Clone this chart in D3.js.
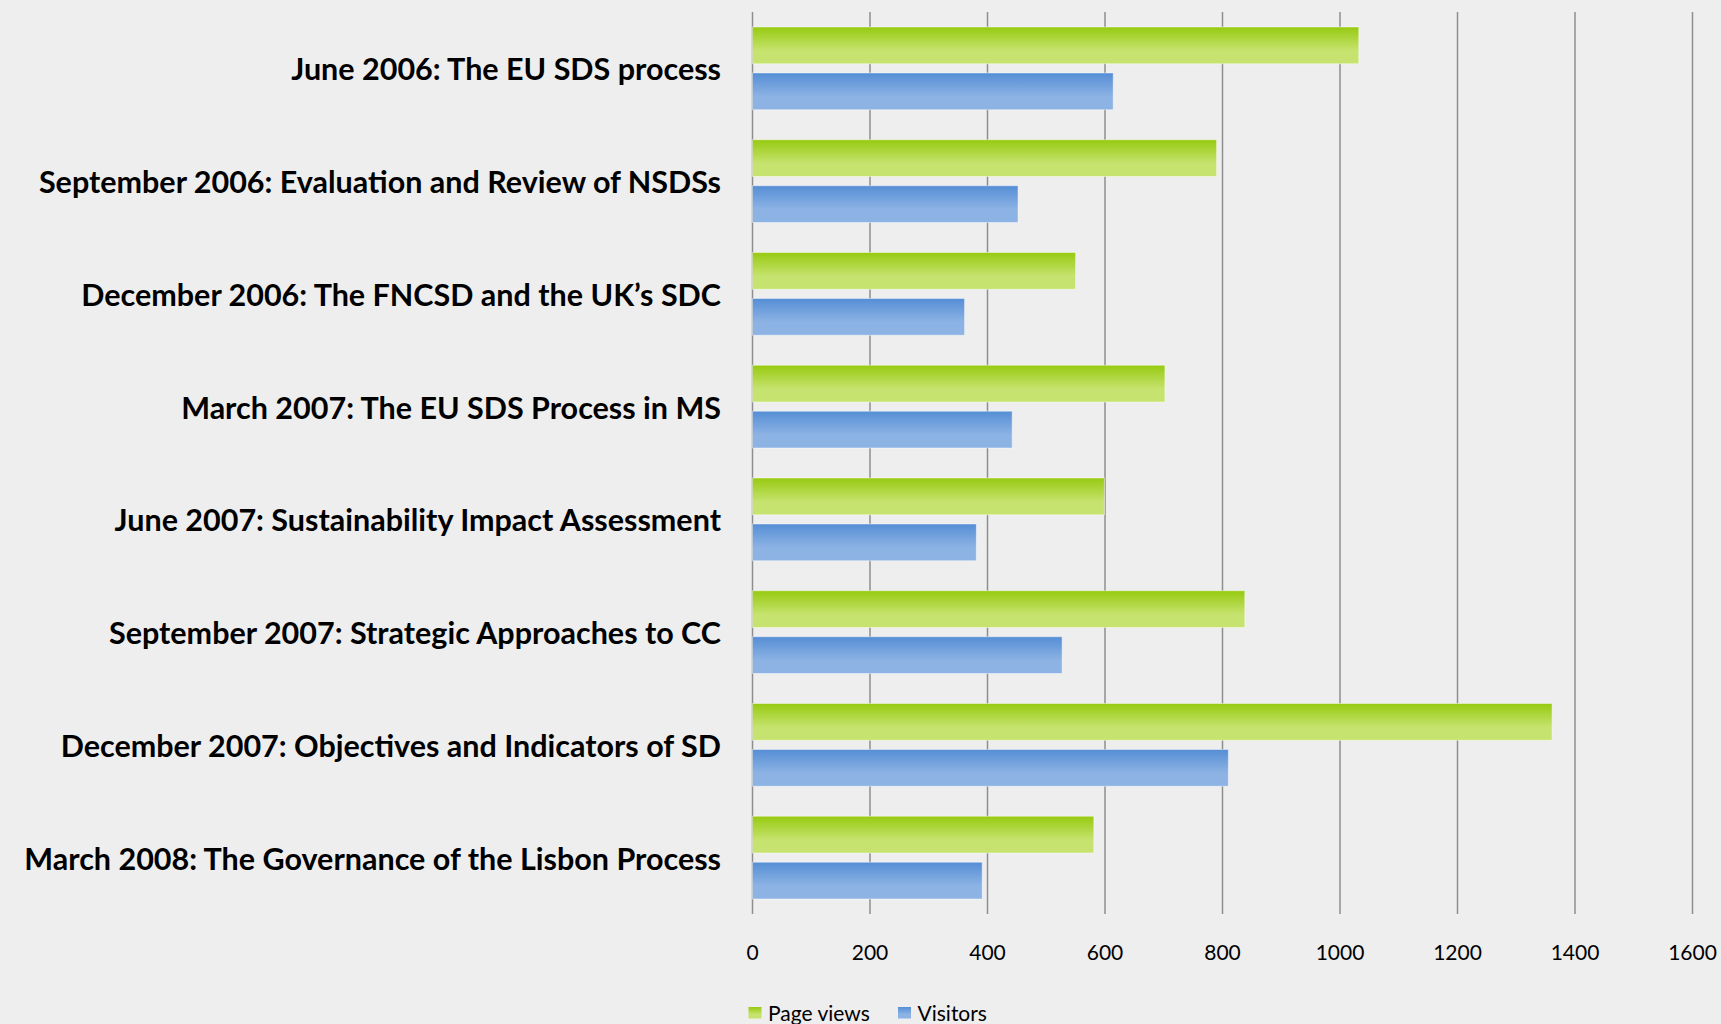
<!DOCTYPE html>
<html>
<head>
<meta charset="utf-8">
<script src="https://cdn.jsdelivr.net/npm/d3@7"></script>
<style>
  html, body { margin: 0; padding: 0; background: #eeeeee; }
  svg { display: block; }
  .cat-label { font-family: Lato, "Open Sans", sans-serif; font-weight: 700; font-size: 30.5px; fill: #000; }
  .tick-label { font-family: Lato, "Open Sans", sans-serif; font-size: 21px; fill: #000; }
  .legend-label { font-family: Lato, "Open Sans", sans-serif; font-size: 21px; fill: #000; }
</style>
</head>
<body>
<div id="chart"></div>
<script>
const categories = [
  "June 2006: The EU SDS process",
  "September 2006: Evaluation and Review of NSDSs",
  "December 2006: The FNCSD and the UK\u2019s SDC",
  "March 2007: The EU SDS Process in MS",
  "June 2007: Sustainability Impact Assessment",
  "September 2007: Strategic Approaches to CC",
  "December 2007: Objectives and Indicators of SD",
  "March 2008: The Governance of the Lisbon Process"
];
const seriesNames = ["Page views", "Visitors"];
const pageViews = [1032, 790, 550, 702, 599, 838, 1361, 581];
const visitors = [614, 452, 361, 442, 381, 527, 810, 391];
const xTicks = [0, 200, 400, 600, 800, 1000, 1200, 1400, 1600];

const width = 1721, height = 1024;
const plot = { left: 752.5, right: 1692.5, top: 12, bottom: 914 };

const data = categories.map((c, i) => ({ cat: c, values: [pageViews[i], visitors[i]] }));

const svg = d3.select("#chart").append("svg")
  .attr("width", width)
  .attr("height", height);

svg.append("rect").attr("width", width).attr("height", height).attr("fill", "#eeeeee");

// gradients for the bars
const defs = svg.append("defs");
const grads = [
  { id: "gGreen", top: "#97ca10", bottom: "#c6e36f" },
  { id: "gBlue", top: "#558ed5", bottom: "#8db3e4" }
];
grads.forEach(g => {
  const lg = defs.append("linearGradient")
    .attr("id", g.id).attr("x1", 0).attr("y1", 0).attr("x2", 0).attr("y2", 1);
  lg.append("stop").attr("offset", "0%").attr("stop-color", g.top);
  lg.append("stop").attr("offset", "65%").attr("stop-color", g.bottom);
  lg.append("stop").attr("offset", "100%").attr("stop-color", g.bottom);
});

const xScale = d3.scaleLinear().domain([0, 1600]).range([plot.left, plot.right]);

const yScale = d3.scaleBand()
  .domain(categories)
  .range([plot.top, plot.bottom])
  .paddingInner(0.266)
  .paddingOuter(0.133);

const ySub = d3.scaleBand()
  .domain(seriesNames)
  .range([0, yScale.bandwidth()])
  .paddingInner(0.2);

const colors = d3.scaleOrdinal().domain(seriesNames).range(["url(#gGreen)", "url(#gBlue)"]);

// vertical gridlines
svg.append("g")
  .selectAll("line")
  .data(xTicks)
  .join("line")
    .attr("x1", d => xScale(d))
    .attr("x2", d => xScale(d))
    .attr("y1", plot.top)
    .attr("y2", plot.bottom)
    .attr("stroke", "#8e8e8e")
    .attr("stroke-width", 1.5);

// bars
const groups = svg.append("g")
  .selectAll("g")
  .data(data)
  .join("g")
    .attr("transform", d => `translate(0,${yScale(d.cat)})`);

groups.selectAll("rect")
  .data(d => d.values.map((v, i) => ({ key: seriesNames[i], value: v })))
  .join("rect")
    .attr("x", xScale(0))
    .attr("y", d => ySub(d.key))
    .attr("width", d => xScale(d.value) - xScale(0))
    .attr("height", ySub.bandwidth())
    .attr("fill", d => colors(d.key))
    .attr("stroke", "rgba(255,255,255,0.45)")
    .attr("stroke-width", 1);

// category labels
svg.append("g")
  .selectAll("text")
  .data(categories)
  .join("text")
    .attr("class", "cat-label")
    .attr("x", 721)
    .attr("y", d => yScale(d) + yScale.bandwidth() / 2)
    .attr("text-anchor", "end")
    .attr("dominant-baseline", "central")
    .text(d => d);

// x tick labels
svg.append("g")
  .selectAll("text")
  .data(xTicks)
  .join("text")
    .attr("class", "tick-label")
    .attr("x", d => xScale(d))
    .attr("y", 951)
    .attr("text-anchor", "middle")
    .attr("dominant-baseline", "central")
    .text(d => d);

// legend
const legendX = [748.5, 898];
const legend = svg.append("g");
seriesNames.forEach((name, i) => {
  legend.append("rect")
    .attr("x", legendX[i])
    .attr("y", 1007)
    .attr("width", 13)
    .attr("height", 11.5)
    .attr("fill", colors(name));
  legend.append("text")
    .attr("class", "legend-label")
    .attr("x", legendX[i] + 19.5)
    .attr("y", 1012)
    .attr("dominant-baseline", "central")
    .text(name);
});
</script>
</body>
</html>
